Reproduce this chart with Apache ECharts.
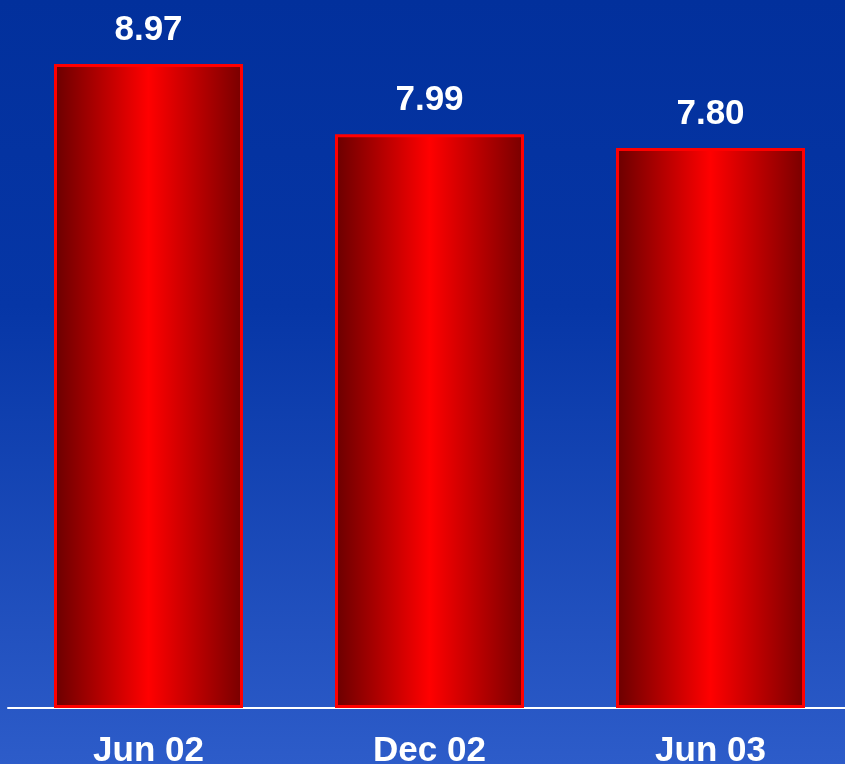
<!DOCTYPE html>
<html>
<head>
<meta charset="utf-8">
<script src="https://cdn.jsdelivr.net/npm/echarts@6/dist/echarts.min.js"></script>
<style>
  html, body { margin: 0; padding: 0; width: 845px; height: 764px; overflow: hidden; }
  #chart { position: absolute; left: 0; top: 0; width: 845px; height: 764px; }
</style>
</head>
<body>
<div id="chart"></div>
<script>
// Periods and the values shown above each bar
const categories = ['Jun 02', 'Dec 02', 'Jun 03'];
const values = [8.97, 7.99, 7.80];

const chart = echarts.init(document.getElementById('chart'));

const barFill = new echarts.graphic.LinearGradient(0, 0, 1, 0, [
  { offset: 0, color: '#6a0000' },
  { offset: 0.5, color: '#ff0000' },
  { offset: 1, color: '#780000' }
]);

chart.setOption({
  animation: false,
  backgroundColor: new echarts.graphic.LinearGradient(0, 0, 0, 1, [
    { offset: 0, color: '#02309c' },
    { offset: 0.4, color: '#0636a6' },
    { offset: 1, color: '#2d5cc9' }
  ]),
  grid: {
    left: 8, top: 0, width: 843, height: 708,
    containLabel: false,
    outerBoundsMode: 'none'
  },
  xAxis: {
    type: 'category',
    data: categories,
    axisLine: { show: true, lineStyle: { color: '#ffffff', width: 2 } },
    axisTick: { show: false },
    axisLabel: {
      color: '#ffffff',
      fontFamily: 'Liberation Sans, Arial, sans-serif',
      fontWeight: 'bold',
      fontSize: 35,
      margin: 26
    }
  },
  yAxis: {
    type: 'value',
    min: 0,
    max: 9.86,
    show: false,
    splitLine: { show: false }
  },
  series: [{
    type: 'bar',
    data: values,
    barWidth: 189,
    itemStyle: {
      color: barFill,
      borderColor: '#ff0000',
      borderWidth: 3
    },
    label: {
      show: true,
      position: 'top',
      distance: 16,
      color: '#ffffff',
      fontFamily: 'Liberation Sans, Arial, sans-serif',
      fontWeight: 'bold',
      fontSize: 35,
      formatter: p => p.value.toFixed(2)
    }
  }]
});
</script>
</body>
</html>
